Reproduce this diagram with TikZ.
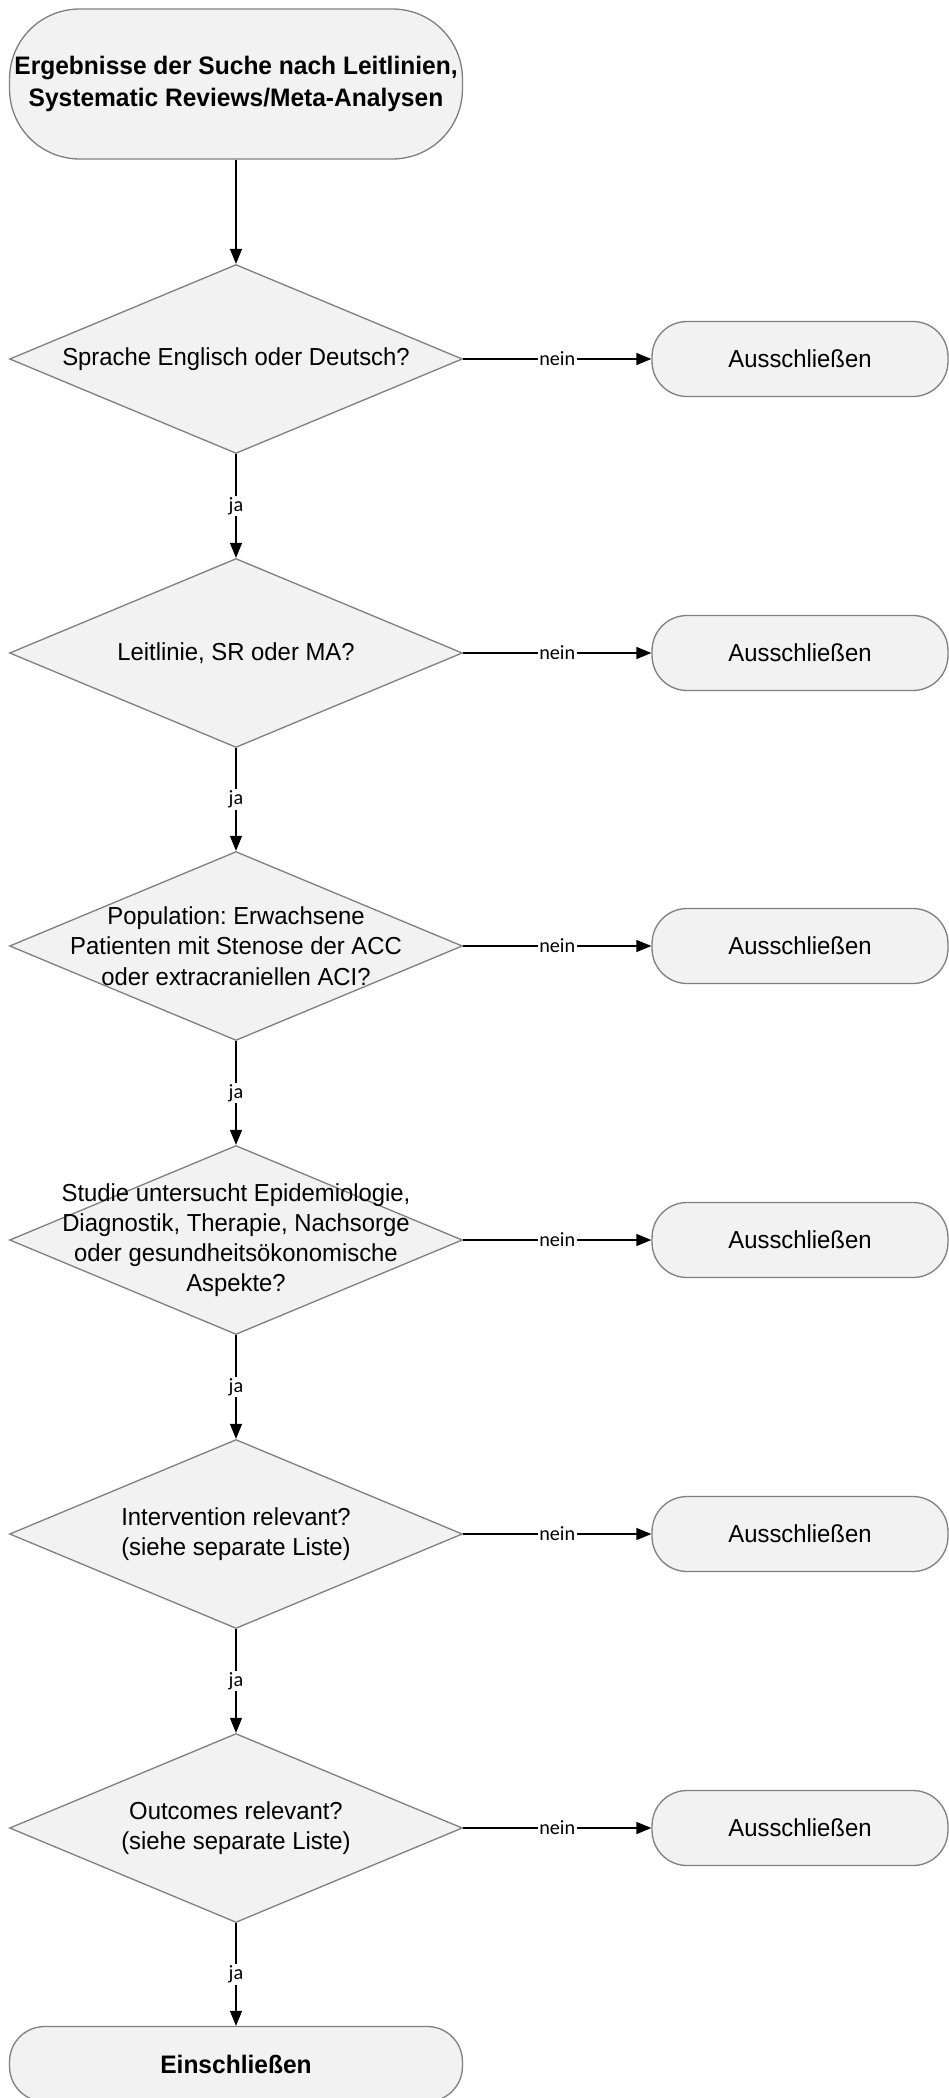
\documentclass[tikz,border=0pt]{standalone}
\usepackage{fontspec}
\setmainfont{Liberation Sans}[FakeStretch=0.97]
\newfontfamily\labelfont{Carlito}
\usetikzlibrary{shapes.geometric,arrows.meta}
\frenchspacing

\begin{document}
\begin{tikzpicture}[x=0.02cm,y=-0.02cm,
  box/.style={draw=black!50,fill=black!5,line width=0.75pt,align=center,inner sep=0pt,font=\fontsize{14}{17.2}\selectfont},
  startbox/.style={box,rounded corners=1.4cm,minimum width=9.06cm,minimum height=3cm,font=\bfseries\fontsize{14.4}{18}\selectfont},
  endbox/.style={box,rounded corners=0.7cm,minimum width=9.06cm,minimum height=1.5cm,font=\bfseries\fontsize{14.4}{18}\selectfont},
  exitbox/.style={box,rounded corners=0.7cm,minimum width=5.92cm,minimum height=1.5cm},
  decision/.style={box,diamond,minimum width=9.06cm,minimum height=3.78cm},
  qtext/.style={align=center,inner sep=0pt,font=\fontsize{14}{17.2}\selectfont},
  flow/.style={line width=0.75pt,-{Triangle[length=0.3cm,width=0.24cm]}},
  edgelabel/.style={fill=white,inner sep=1pt,font=\labelfont\fontsize{11.5}{13}\selectfont},
]
\useasboundingbox (0,0) rectangle (949,2098);
\node[startbox] (start) at (236,84) {Ergebnisse der Suche nach Leitlinien,\\Systematic Reviews/Meta-Analysen};
\node[decision] (q1) at (236,359) {};
\node[qtext] (q1t) at (q1) {Sprache Englisch oder Deutsch?};
\node[exitbox] (x1) at (800,359) {Ausschließen};
\node[decision] (q2) at (236,653) {};
\node[qtext] (q2t) at (q2) {Leitlinie, SR oder MA?};
\node[exitbox] (x2) at (800,653) {Ausschließen};
\node[decision] (q3) at (236,946) {};
\node[qtext] (q3t) at (q3) {Population: Erwachsene\\Patienten mit Stenose der ACC\\oder extracraniellen ACI?};
\node[exitbox] (x3) at (800,946) {Ausschließen};
\node[decision] (q4) at (236,1240) {};
\node[qtext] (q4t) at (q4) {Studie untersucht Epidemiologie,\\Diagnostik, Therapie, Nachsorge\\oder gesundheitsökonomische\\Aspekte?};
\node[exitbox] (x4) at (800,1240) {Ausschließen};
\node[decision] (q5) at (236,1534) {};
\node[qtext] (q5t) at (q5) {Intervention relevant?\\(siehe separate Liste)};
\node[exitbox] (x5) at (800,1534) {Ausschließen};
\node[decision] (q6) at (236,1828) {};
\node[qtext] (q6t) at (q6) {Outcomes relevant?\\(siehe separate Liste)};
\node[exitbox] (x6) at (800,1828) {Ausschließen};
\node[endbox] (final) at (236,2064) {Einschließen};
% connectors
\draw[flow] (start.south) -- (q1.north);
\draw[flow] (q1.east) -- node[edgelabel] {nein} (x1.west);
\draw[flow] (q1.south) -- node[edgelabel] {ja} (q2.north);
\draw[flow] (q2.east) -- node[edgelabel] {nein} (x2.west);
\draw[flow] (q2.south) -- node[edgelabel] {ja} (q3.north);
\draw[flow] (q3.east) -- node[edgelabel] {nein} (x3.west);
\draw[flow] (q3.south) -- node[edgelabel] {ja} (q4.north);
\draw[flow] (q4.east) -- node[edgelabel] {nein} (x4.west);
\draw[flow] (q4.south) -- node[edgelabel] {ja} (q5.north);
\draw[flow] (q5.east) -- node[edgelabel] {nein} (x5.west);
\draw[flow] (q5.south) -- node[edgelabel] {ja} (q6.north);
\draw[flow] (q6.east) -- node[edgelabel] {nein} (x6.west);
\draw[flow] (q6.south) -- node[edgelabel] {ja} (final.north);
\end{tikzpicture}
\end{document}
